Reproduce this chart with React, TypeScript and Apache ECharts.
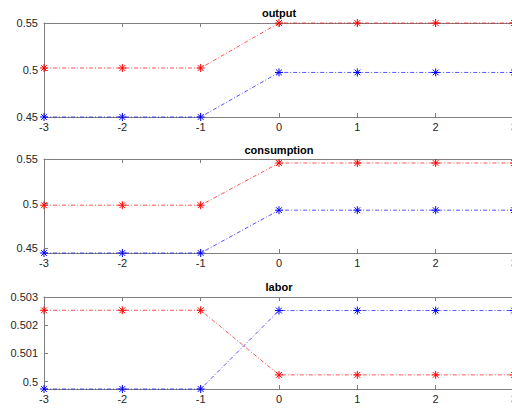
import React, { useEffect, useRef } from "react";
import * as echarts from "echarts";

const periods = [-3, -2, -1, 0, 1, 2, 3];
const xTicks = [-3, -2, -1, 0, 1, 2, 3];
const titles = ["output", "consumption", "labor"];

const outputRed = [0.5021, 0.5021, 0.5021, 0.55, 0.55, 0.55, 0.55];
const outputBlue = [0.45, 0.45, 0.45, 0.4974, 0.4974, 0.4974, 0.4974];
const consRed = [0.4981, 0.4981, 0.4981, 0.5455, 0.5455, 0.5455, 0.5455];
const consBlue = [0.4444, 0.4444, 0.4444, 0.4925, 0.4925, 0.4925, 0.4925];
const laborRed = [0.50253, 0.50253, 0.50253, 0.50024, 0.50024, 0.50024, 0.50024];
const laborBlue = [0.49974, 0.49974, 0.49974, 0.50252, 0.50252, 0.50252, 0.50252];

const outputTicks = [0.45, 0.5, 0.55];
const consTicks = [0.45, 0.5, 0.55];
const laborTicks = [0.5, 0.501, 0.502, 0.503];

const yRanges = [
  [0.45, 0.55],
  [0.4444, 0.55],
  [0.49974, 0.503],
];

const FONT = "Liberation Sans";
const STAR = "path://M0,-5L0,5M-5,0L5,0M-3.6,-3.6L3.6,3.6M-3.6,3.6L3.6,-3.6";

export default function App() {
  const ref = useRef<HTMLDivElement>(null);
  useEffect(() => {
    if (!ref.current) return;
    const chart = echarts.init(ref.current, undefined, { renderer: "svg" });
    const grids = [
      { left: 44, top: 23, width: 470, height: 94 },
      { left: 44, top: 159, width: 470, height: 94 },
      { left: 44, top: 297, width: 470, height: 92 },
    ];
    const yTickSets = [outputTicks, consTicks, laborTicks];
    const seriesData = [
      [outputRed, outputBlue],
      [consRed, consBlue],
      [laborRed, laborBlue],
    ];
    const axisColor = "#7f7f7f";
    const xAxes: any[] = [];
    const yAxes: any[] = [];
    const series: any[] = [];
    grids.forEach((g, i) => {
      xAxes.push({
        type: "value",
        gridIndex: i,
        min: -3,
        max: 3,
        interval: 1,
        position: "bottom",
        axisLine: { show: true, onZero: false, lineStyle: { color: axisColor, width: 1 } },
        axisTick: { show: true, inside: true, length: 4, lineStyle: { color: axisColor } },
        axisLabel: {
          color: "#262626",
          fontFamily: FONT,
          fontSize: 11,
          margin: 4,
          customValues: xTicks,
        },
        splitLine: { show: false },
      });
      xAxes.push({
        type: "value",
        gridIndex: i,
        min: -3,
        max: 3,
        interval: 1,
        position: "top",
        axisLine: { show: true, onZero: false, lineStyle: { color: axisColor, width: 1 } },
        axisTick: { show: true, inside: true, length: 4, lineStyle: { color: axisColor } },
        axisLabel: { show: false },
        splitLine: { show: false },
      });
      yAxes.push({
        type: "value",
        gridIndex: i,
        position: "left",
        min: yRanges[i][0],
        max: yRanges[i][1],
        axisLine: { show: true, onZero: false, lineStyle: { color: axisColor, width: 1 } },
        axisTick: {
          show: true,
          inside: true,
          length: 4,
          lineStyle: { color: axisColor },
          customValues: yTickSets[i],
        },
        axisLabel: {
          color: "#262626",
          fontFamily: FONT,
          fontSize: 11,
          margin: 6,
          customValues: yTickSets[i],
          formatter: (v: number) => String(+v.toFixed(4)),
        },
        splitLine: { show: false },
      });
      const [red, blue] = seriesData[i];
      const mk = (vals: number[], color: string, line: string) => ({
        type: "line",
        xAxisIndex: i * 2,
        yAxisIndex: i,
        data: periods.map((p, k) => [p, vals[k]]),
        symbol: STAR,
        symbolSize: 8,
        showSymbol: true,
        clip: false,
        itemStyle: { color: "none", borderColor: color, borderWidth: 1 },
        lineStyle: { color: line, width: 0.8, type: [4, 2, 1, 2] },
        emphasis: { disabled: true },
      });
      series.push(mk(red, "#ff0000", "rgba(255,0,0,0.85)"));
      series.push(mk(blue, "#0000ff", "rgba(0,0,255,0.85)"));
    });
    const titleY = [13, 150, 287];
    chart.setOption({
      animation: false,
      grid: grids.map((g) => ({ ...g, containLabel: false })),
      xAxis: xAxes,
      yAxis: yAxes,
      series,
      graphic: titles.map((t, i) => ({
        type: "text",
        x: 279,
        y: titleY[i],
        style: {
          text: t,
          fill: "#000",
          font: `bold 11px "${FONT}"`,
          textAlign: "center",
          textVerticalAlign: "middle",
        },
      })),
    });
    return () => chart.dispose();
  }, []);
  return (
    <div
      ref={ref}
      style={{ position: "fixed", left: 0, top: 0, width: 522, height: 408, background: "#fff" }}
    />
  );
}
